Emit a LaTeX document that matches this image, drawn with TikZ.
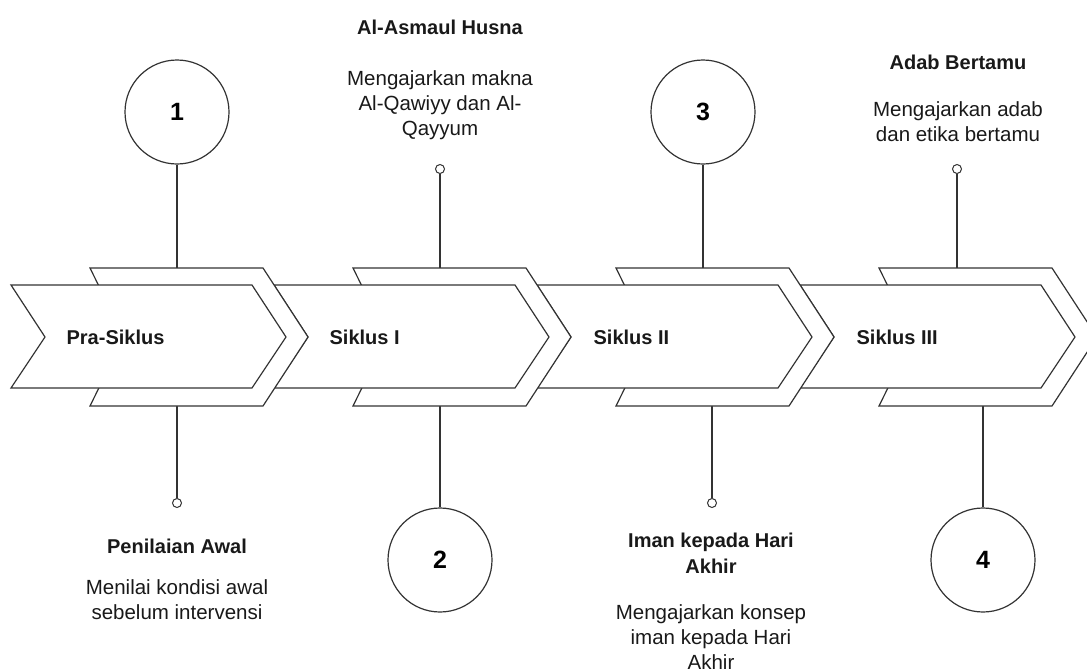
\documentclass[tikz,border=0pt]{standalone}
\usepackage{fontspec}
\setmainfont{Liberation Sans}
\begin{document}
\begin{tikzpicture}[x=1pt,y=-1pt,line width=1.2pt,
                ln/.style={draw=black!80},
                num/.style={circle,draw=black!80,fill=white,minimum size=104pt,inner sep=0pt,font=\fontsize{25}{30}\selectfont\bfseries},
                pin/.style={circle,draw=black!80,fill=white,minimum size=9pt,inner sep=0pt,line width=1pt},
                ttl/.style={align=center,text=black!90,font=\fontsize{20}{26}\selectfont\bfseries},
                txt/.style={align=center,text=black!90,font=\fontsize{20.5}{25}\selectfont},
                lbl/.style={anchor=west,inner sep=0pt,text=black!90,font=\fontsize{20}{24}\selectfont\bfseries}]
                \useasboundingbox (0,0) rectangle (1087,672);
                \clip (0,0) rectangle (1087,672);
                \node[num] (n1) at (177,112) {1};
                \node[pin] (p2) at (440,169) {};
                \node[num] (n3) at (703,112) {3};
                \node[pin] (p4) at (957,169) {};
                \node[pin] (p1) at (177,503) {};
                \node[num] (n2) at (440,560) {2};
                \node[pin] (p3) at (712,503) {};
                \node[num] (n4) at (983,560) {4};
                \coordinate (t1) at (177,268);
                \coordinate (t2) at (440,268);
                \coordinate (t3) at (703,268);
                \coordinate (t4) at (957,268);
                \coordinate (b1) at (177,406);
                \coordinate (b2) at (440,406);
                \coordinate (b3) at (712,406);
                \coordinate (b4) at (983,406);
                \draw[ln] (n1) -- (t1);
                \draw[ln] (p2) -- (t2);
                \draw[ln] (n3) -- (t3);
                \draw[ln] (p4) -- (t4);
                \draw[ln] (p1) -- (b1);
                \draw[ln] (n2) -- (b2);
                \draw[ln] (p3) -- (b3);
                \draw[ln] (n4) -- (b4);
                \foreach \i in {3,2,1,0}{
                    \begin{scope}[shift={(263*\i,0)}]
                        \draw[ln,fill=white] (90,268) -- (263,268) -- (308,337) -- (263,406) -- (90,406) -- (124,337) -- cycle;
                        \draw[ln,fill=white] (11,285) -- (252,285) -- (286,337) -- (252,388) -- (11,388) -- (45,337) -- cycle;
                    \end{scope}
                }
                \node[lbl] (s1) at (66,337) {Pra-Siklus};
                \node[lbl] (s2) at (329,337) {Siklus I};
                \node[lbl] (s3) at (593,337) {Siklus II};
                \node[lbl] (s4) at (856,337) {Siklus III};
                \node[ttl] (h2) at (440,27) {Al-Asmaul Husna};
                \node[txt] (d2) at (440,105) {Mengajarkan makna\\Al-Qawiyy dan Al-\\Qayyum};
                \node[ttl] (h4) at (958,62) {Adab Bertamu};
                \node[txt] (d4) at (958,121.5) {Mengajarkan adab\\dan etika bertamu};
                \node[ttl] (h1) at (177,546) {Penilaian Awal};
                \node[txt] (d1) at (177,600) {Menilai kondisi awal\\sebelum intervensi};
                \node[ttl] (h3) at (711,553) {Iman kepada Hari\\Akhir};
                \node[txt] (d3) at (711,637) {Mengajarkan konsep\\iman kepada Hari\\Akhir};
            \end{tikzpicture}
\end{document}
